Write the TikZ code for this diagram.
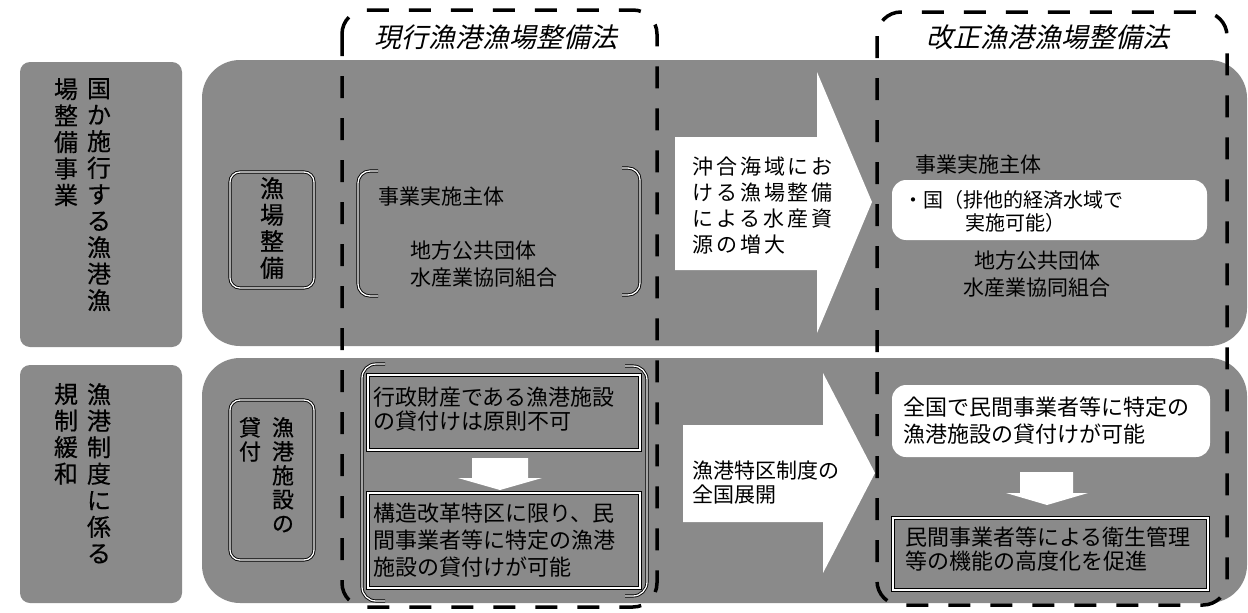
\documentclass[tikz,border=0pt]{standalone}
\usepackage{fontspec}
\newfontfamily\jp{Noto Sans CJK JP}
\newfontfamily\jpb[FakeBold=0.5]{Noto Sans CJK JP}
\newfontfamily\jpit[FakeSlant=0.22]{Noto Sans CJK JP}
\newfontfamily\jpsp[LetterSpace=14]{Noto Sans CJK JP}
\definecolor{bandgray}{RGB}{138,138,138}
\tikzset{
  band/.style={fill=bandgray, rounded corners=38pt},
  sidebox/.style={fill=bandgray, rounded corners=10pt},
  dashbox/.style={draw=black, line width=3.5pt, dash pattern=on 22pt off 20pt, rounded corners=24pt},
  dline/.style={draw=black, double=white, double distance=1.3pt, line width=0.9pt},
  whitebox/.style={fill=white, rounded corners=14pt},
  arrowfill/.style={fill=white},
  titletext/.style={inner sep=0pt, font={\jpit\fontsize{27}{30}\selectfont}},
  vtext/.style={align=center, inner sep=0pt, font={\jpb\fontsize{24}{26.5}\selectfont}},
  vtextb/.style={align=center, inner sep=0pt, font={\jpb\fontsize{22}{24}\selectfont}},
  txt/.style={align=left, inner sep=0pt, font={\jp\fontsize{21}{27}\selectfont}},
  txtb/.style={align=left, inner sep=0pt, font={\jp\fontsize{22}{24}\selectfont}},
  txtc/.style={align=left, inner sep=0pt, font={\jp\fontsize{22}{27}\selectfont}},
  txtw/.style={align=left, inner sep=0pt, font={\jp\fontsize{20}{23}\selectfont}},
  arrtext/.style={align=left, inner sep=0pt, font={\jpsp\fontsize{21}{26}\selectfont}},
  arrtextb/.style={align=left, inner sep=0pt, font={\jp\fontsize{21}{24}\selectfont}},
}
\begin{document}
\begin{tikzpicture}[x=1pt,y=-1pt]
\useasboundingbox (0,0) rectangle (1248,613);
\fill[white] (0,0) rectangle (1248,613);

% side label boxes
\fill[sidebox] (20,62) rectangle (182,347);
\fill[sidebox] (20,365) rectangle (182,603);

% bands
\fill[band] (202,60) rectangle (1247,346);
\fill[band] (202,358) rectangle (1247,603);

% big arrows
\fill[arrowfill] (675,137) -- (817,137) -- (817,72) -- (872,202) -- (817,333) -- (817,270) -- (675,270) -- cycle;
\fill[arrowfill] (683,425) -- (823,425) -- (823,373) -- (875,473) -- (823,573) -- (823,522) -- (683,522) -- cycle;

% dashed frames
\draw[dashbox] (342,10) rectangle (657,607);
\draw[dashbox] (877,12) rectangle (1227,605);

% titles
\node[titletext] (t1) at (496,37) {現行漁港漁場整備法};
\node[titletext] (t2) at (1048,37) {改正漁港漁場整備法};

% left vertical labels
\node[vtext, anchor=north] (l1a) at (99,78) {国\\か\\施\\行\\す\\る\\漁\\港\\漁};
\node[vtext, anchor=north] (l1b) at (66,78) {場\\整\\備\\事\\業};
\node[vtext, anchor=north] (l2a) at (99,383) {漁\\港\\制\\度\\に\\係\\る};
\node[vtext, anchor=north] (l2b) at (66,383) {規\\制\\緩\\和};

% ---- top band ----
\draw[dline, rounded corners=10pt] (230,172) rectangle (314,288);
\node[vtext, anchor=north] (g1) at (272,177) {漁\\場\\整\\備};

\draw[dline, rounded corners=12pt] (378,171) -- (358,171) -- (358,296) -- (378,296);
\draw[dline, rounded corners=12pt] (622,168) -- (640,168) -- (640,295) -- (622,295);
\node[txt, anchor=west] (s1) at (378,197) {事業実施主体};
\node[txt, anchor=west] (s2) at (410,264) {地方公共団体\\水産業協同組合};

\node[arrtext, anchor=west] (a1) at (692,206) {沖合海域にお\\ける漁場整備\\による水産資\\源の増大};

\node[txt, anchor=west] (r1) at (915,165) {事業実施主体};
\fill[whitebox] (892,180) rectangle (1207,240);
\node[txtw, anchor=west] (r2) at (903,200) {・国（排他的経済水域で};
\node[txtw, anchor=west] (r3) at (965,223) {実施可能）};
\node[txt, align=center] (r4) at (1037,274) {地方公共団体\\水産業協同組合};

% ---- bottom band ----
\draw[dline, rounded corners=10pt] (230,400) rectangle (314,560);
\node[vtextb, anchor=north] (g2a) at (283,417) {漁\\港\\施\\設\\の};
\node[vtextb, anchor=north] (g2b) at (250,417) {貸\\付};

\draw[dline, rounded corners=14pt] (385,364) -- (362,364) -- (362,601) -- (385,601);
\draw[dline, rounded corners=14pt] (625,366) -- (647,366) -- (647,596) -- (625,596);

\draw[dline] (368,375) rectangle (640,450);
\node[txtb, anchor=west] (b1) at (373,409) {行政財産である漁港施設\\の貸付けは原則不可};
\fill[arrowfill] (472,458) -- (528,458) -- (528,478) -- (542,478) -- (500,490) -- (458,478) -- (472,478) -- cycle;
\draw[dline] (368,493) rectangle (640,588);
\node[txtc, anchor=west] (b2) at (373,540) {構造改革特区に限り、民\\間事業者等に特定の漁港\\施設の貸付けが可能};

\node[arrtextb, anchor=west] (a2) at (692,483) {漁港特区制度の\\全国展開};

\fill[whitebox] (892,385) rectangle (1210,457);
\node[txtc, anchor=west] (c1) at (903,421) {全国で民間事業者等に特定の\\漁港施設の貸付けが可能};
\fill[arrowfill] (1020,472) -- (1073,472) -- (1073,493) -- (1088,493) -- (1047,505) -- (1006,493) -- (1020,493) -- cycle;
\draw[dline] (893,518) rectangle (1208,590);
\node[txtb, anchor=west] (c2) at (905,549) {民間事業者等による衛生管理\\等の機能の高度化を促進};
\end{tikzpicture}
\end{document}
